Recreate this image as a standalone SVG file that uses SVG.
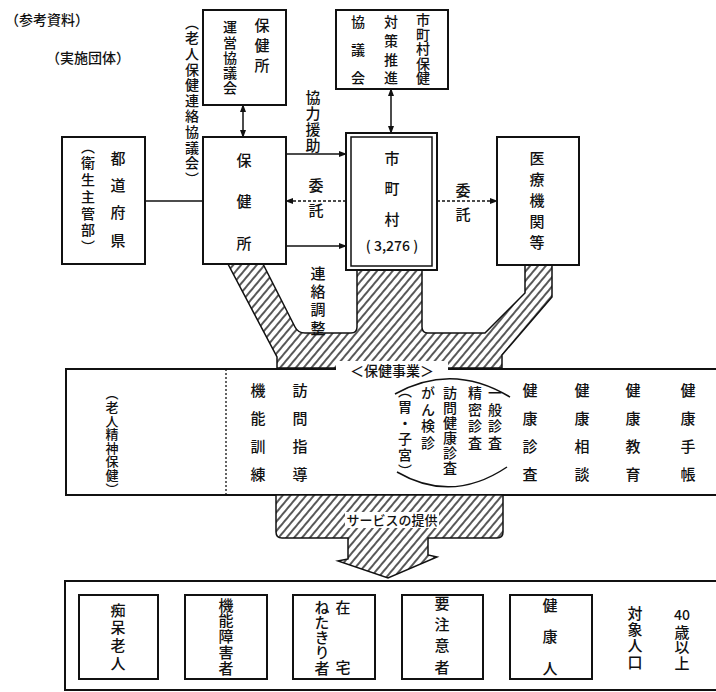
<svg xmlns="http://www.w3.org/2000/svg" width="716" height="692" viewBox="0 0 716 692">
<style>
text{font-family:"Noto Sans CJK JP","Noto Sans CJK SC",sans-serif;fill:#111;font-weight:500;}
.v{writing-mode:vertical-rl;}
.box{fill:#fff;stroke:#111;stroke-width:2;}
.ln{stroke:#111;stroke-width:1.5;fill:none;}
.dash{stroke:#111;stroke-width:1.5;stroke-dasharray:3 2;fill:none;}
.hatch{fill:url(#hatch);stroke:#111;stroke-width:1.5;}
</style>
<defs>
<pattern id="hatch" width="6" height="6" patternUnits="userSpaceOnUse" patternTransform="rotate(40)"><rect width="6" height="6" fill="#fff"/><line x1="1" y1="0" x2="1" y2="6" stroke="#111" stroke-width="1.4"/></pattern>
<marker id="ar" markerWidth="8" markerHeight="6" refX="7" refY="3" orient="auto-start-reverse" markerUnits="userSpaceOnUse"><path d="M0,0 L8,3 L0,6 Z" fill="#111"/></marker>
</defs>
<rect width="716" height="692" fill="#fff"/>
<text x="5" y="25" font-size="14">（参考資料）</text>
<text x="46" y="63" font-size="14">（実施団体）</text>

<g id="hatch-flow">
<path class="hatch" d="M228,264 L263,264 L295,327 Q298,333 305,333 L351,333 Q357,333 357,327 L357,270 L422,270 L422,327 Q422,333 428,333 L485,333 L525,293 L525,265 L552,265 L552,297 L502,355 L502,368 L277,368 L277,357 Z"/>
</g>

<g id="connectors">
<line class="ln" x1="243" y1="105" x2="243" y2="137" marker-start="url(#ar)" marker-end="url(#ar)"/>
<line class="ln" x1="391" y1="89" x2="391" y2="133" marker-start="url(#ar)" marker-end="url(#ar)"/>
<line class="ln" x1="145" y1="201" x2="203" y2="201"/>
<line class="ln" x1="286" y1="154" x2="346" y2="154" marker-end="url(#ar)"/>
<line class="dash" x1="346" y1="201" x2="286" y2="201" marker-end="url(#ar)"/>
<line class="ln" x1="286" y1="246" x2="346" y2="246" marker-end="url(#ar)"/>
<line class="dash" x1="437" y1="201" x2="497" y2="201" marker-end="url(#ar)"/>
<text class="v" x="313" y="89.5" font-size="15" letter-spacing="1">協力援助</text>
<text class="v" x="316" y="177.5" font-size="15" letter-spacing="10">委託</text>
<text class="v" x="318" y="265.5" font-size="15" letter-spacing="3.3">連絡調整</text>
<text class="v" x="463" y="182.5" font-size="15" letter-spacing="9">委託</text>
<text class="v" x="192" y="15.4" font-size="14" letter-spacing="1.6">（老人保健連絡協議会）</text>
</g>

<g id="unei">
<rect class="box" x="203" y="10" width="83" height="95"/>
<text class="v" x="262" y="17.5" font-size="15" letter-spacing="5">保健所</text>
<text class="v" x="230" y="20" font-size="14" letter-spacing="1.25">運営協議会</text>
</g>

<g id="suishin">
<rect class="box" x="336" y="10" width="112" height="79"/>
<text class="v" x="423" y="13" font-size="14" letter-spacing="0.5">市町村保健</text>
<text class="v" x="391" y="15" font-size="14" letter-spacing="4.7">対策推進</text>
<text class="v" x="358" y="15" font-size="14" letter-spacing="14">協議会</text>
</g>

<g id="todofuken">
<rect class="box" x="62" y="137" width="83" height="127"/>
<text class="v" x="118" y="150.5" font-size="15" letter-spacing="12.3">都道府県</text>
<text class="v" x="88" y="139.25" font-size="14" letter-spacing="2.75">（衛生主管部）</text>
</g>

<g id="hokenjo">
<rect class="box" x="203" y="137" width="83" height="127"/>
<text class="v" x="244" y="152.5" font-size="15" letter-spacing="26.5">保健所</text>
</g>

<g id="shichoson">
<rect class="box" x="346" y="133" width="91" height="137"/>
<rect x="351" y="137" width="81" height="129" fill="none" stroke="#111" stroke-width="1.5"/>
<text class="v" x="392" y="150.5" font-size="15" letter-spacing="15.5">市町村</text>
<text x="392" y="251" font-size="14" text-anchor="middle">( 3,276 )</text>
</g>

<g id="iryo">
<rect class="box" x="497" y="137" width="82" height="128"/>
<text class="v" x="537" y="150.5" font-size="15" letter-spacing="6">医療機関等</text>
</g>

<g id="hoken-jigyo">
<rect class="box" x="66" y="369" width="670" height="126"/>
<line x1="226" y1="369" x2="226" y2="495" stroke="#111" stroke-width="1.3" stroke-dasharray="2 2"/>
<rect x="336" y="361" width="112" height="18" fill="#fff"/>
<text x="392" y="376" font-size="14" font-weight="bold" text-anchor="middle">＜保健事業＞</text>
<text class="v" x="112" y="386.9" font-size="13" letter-spacing="0.6">（老人精神保健）</text>
<text class="v" x="258" y="382.5" font-size="15" letter-spacing="13">機能訓練</text>
<text class="v" x="300" y="382.5" font-size="15" letter-spacing="13">訪問指導</text>
<path class="ln" d="M395,394 Q452,362 510,397"/>
<path class="ln" d="M397,472 Q452,504 507,467"/>
<text class="v" x="495" y="386" font-size="14" letter-spacing="2.5">一般診査</text>
<text class="v" x="475" y="386" font-size="14" letter-spacing="2.5">精密診査</text>
<text class="v" x="450" y="386" font-size="14" letter-spacing="1">訪問健康診査</text>
<text class="v" x="428" y="386" font-size="14" letter-spacing="2.5">がん検診</text>
<text class="v" x="405" y="384" font-size="14" letter-spacing="2">（胃・子宮）</text>
<text class="v" x="530" y="382.5" font-size="15" letter-spacing="13">健康診査</text>
<text class="v" x="582" y="382.5" font-size="15" letter-spacing="13">健康相談</text>
<text class="v" x="633" y="382.5" font-size="15" letter-spacing="13">健康教育</text>
<text class="v" x="688" y="382.5" font-size="15" letter-spacing="13">健康手帳</text>
</g>

<g id="service">
<path class="hatch" d="M276,495 L503,495 L503,532 Q503,538 497,538 L428,538 L428,555 L437,557 L388,578 L338,561 L348,559 L348,538 L282,538 Q276,538 276,532 Z"/>
<rect x="345" y="512" width="94" height="16" fill="#fff"/>
<text x="392" y="525" font-size="13" text-anchor="middle">サービスの提供</text>
</g>

<g id="taisho">
<rect class="box" x="65" y="581" width="670" height="109"/>
<g id="chiho"><rect class="box" x="79" y="595" width="79" height="84"/>
<text class="v" x="118" y="602.5" font-size="15" letter-spacing="2.7">痴呆老人</text></g>
<g id="kino"><rect class="box" x="185" y="595" width="82" height="84"/>
<text class="v" x="226" y="597.5" font-size="15" letter-spacing="0.75">機能障害者</text></g>
<g id="netakiri"><rect class="box" x="293" y="595" width="82" height="84"/>
<text x="343" y="613" font-size="15" text-anchor="middle">在</text>
<text x="343" y="673" font-size="15" text-anchor="middle">宅</text>
<text class="v" x="322" y="599.5" font-size="15" letter-spacing="0.25">ねたきり者</text></g>
<g id="yochui"><rect class="box" x="402" y="595" width="81" height="84"/>
<text class="v" x="442" y="595.5" font-size="15" letter-spacing="6.3">要注意者</text></g>
<g id="kenkojin"><rect class="box" x="510" y="595" width="82" height="84"/>
<text class="v" x="550" y="597.5" font-size="15" letter-spacing="16.5">健康人</text></g>
<text class="v" x="635" y="605.5" font-size="15" letter-spacing="1.3">対象人口</text>
<text x="682" y="620" font-size="14" text-anchor="middle">40</text>
<text class="v" x="682" y="624.5" font-size="15" letter-spacing="0.5">歳以上</text>
</g>
</svg>
